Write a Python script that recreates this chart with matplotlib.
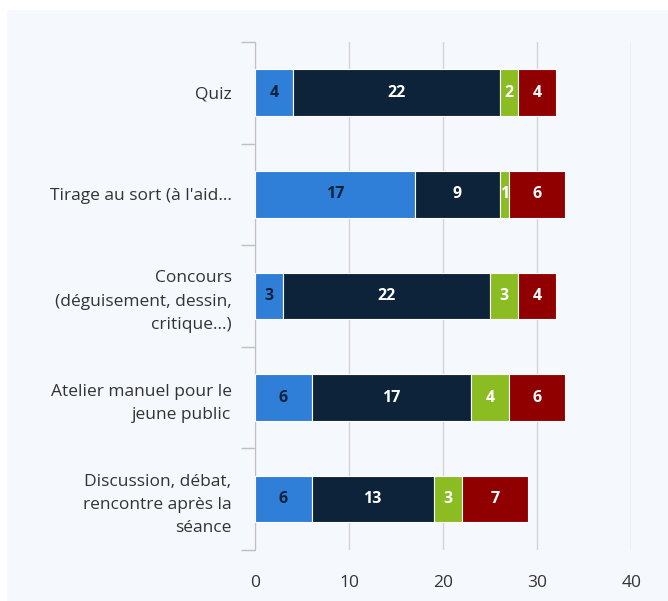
import matplotlib.pyplot as plt
from matplotlib.patches import Rectangle
import numpy as np

plt.rcParams['font.family'] = ['Open Sans', 'DejaVu Sans']

# Data
categories = [
    "Quiz",
    "Tirage au sort (à l'aid...",
    "Concours\n(déguisement, dessin,\ncritique...)",
    "Atelier manuel pour le\njeune public",
    "Discussion, débat,\nrencontre après la\nséance",
]
serie_1 = [4, 17, 3, 6, 6]
serie_2 = [22, 9, 22, 17, 13]
serie_3 = [2, 1, 3, 4, 3]
serie_4 = [4, 6, 4, 6, 7]

series = [serie_1, serie_2, serie_3, serie_4]
colors = ["#2f7ed8", "#0d233a", "#8bbc21", "#910000"]
label_colors = ["#0d233a", "white", "white", "white"]
bg = "#f5f8fc"

fig = plt.figure(figsize=(6.68, 6.01), dpi=100, facecolor="white")
fig.patches.append(Rectangle((7 / 668, 0), 1, 1 - 10 / 601, transform=fig.transFigure,
                             facecolor=bg, edgecolor="none", zorder=-10))
ax = fig.add_axes([0.382, 0.085, 0.563, 0.845], facecolor=bg)

y = np.arange(len(categories))
left = np.zeros(len(categories))
for vals, col, lcol in zip(series, colors, label_colors):
    vals = np.array(vals)
    bars = ax.barh(y, vals, left=left, height=0.46, color=col,
                   edgecolor="white", linewidth=0.8, zorder=3)
    for b, v in zip(bars, vals):
        ax.text(b.get_x() + b.get_width() / 2, b.get_y() + b.get_height() / 2,
                str(v), ha="center", va="center", color=lcol,
                fontsize=11.5, fontweight="bold", zorder=4)
    left += vals

ax.set_xlim(0, 40)
ax.set_ylim(len(categories) - 0.5, -0.5)
ax.set_xticks([0, 10, 20, 30, 40])
ax.set_yticks(y)
ax.set_yticklabels(categories, fontsize=12.5, color="#333333",
                   multialignment="right", linespacing=1.6)
ax.set_yticks(np.arange(-0.5, len(categories)), minor=True)

ax.grid(axis="x", color="#d4d4d4", linewidth=1, zorder=0)
ax.tick_params(axis="y", which="major", length=0, pad=17)
ax.tick_params(axis="y", which="minor", length=10, color="#c0c0c0", width=1)
ax.tick_params(axis="x", length=0, pad=18, labelsize=12.5, labelcolor="#333333")

for s in ["top", "right", "bottom"]:
    ax.spines[s].set_visible(False)
ax.spines["left"].set_color("#c0c0c0")

plt.savefig("out.png", dpi=100, facecolor="white")
